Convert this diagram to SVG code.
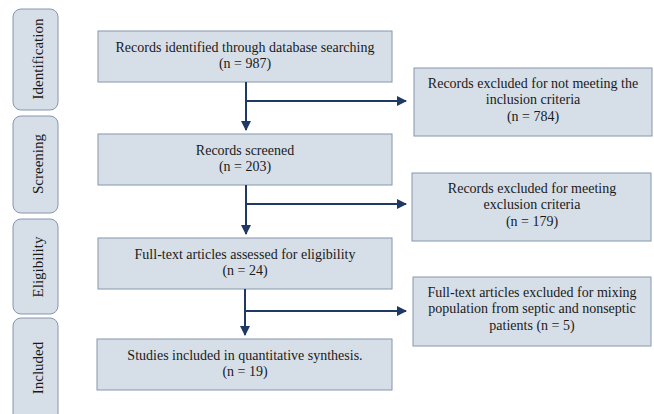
<svg xmlns="http://www.w3.org/2000/svg" width="654" height="414" viewBox="0 0 654 414">
<style>
.side{fill:#d6dfe8;stroke:#8596ad;stroke-width:1}
.box{fill:#d6dfe8;stroke:#8596ad;stroke-width:1}
.t{font-family:"Liberation Serif","DejaVu Serif",serif;font-size:14px;fill:#1a1a1a;text-anchor:middle}
.st{font-size:15px}
.conn{fill:none;stroke:#1f3864;stroke-width:2}
</style>
<defs>
<marker id="ah" viewBox="0 0 10 10" refX="9" refY="5" markerWidth="5" markerHeight="5" orient="auto" markerUnits="strokeWidth">
<path d="M0,0 L10,5 L0,10 z" fill="#1f3864"/>
</marker>
</defs>
<rect width="654" height="414" fill="#ffffff"/>
<g class="t" font-family="Liberation Serif, DejaVu Serif, serif">
<g id="stage-identification"><rect class="side" x="13" y="9" width="45" height="101" rx="8"/><text class="st" transform="translate(43,59) rotate(-90)">Identification</text></g>
<g id="stage-screening"><rect class="side" x="13" y="116" width="45" height="97" rx="8"/><text class="st" transform="translate(43,164) rotate(-90)">Screening</text></g>
<g id="stage-eligibility"><rect class="side" x="13" y="219" width="45" height="95" rx="8"/><text class="st" transform="translate(43,267) rotate(-90)">Eligibility</text></g>
<g id="stage-included"><rect class="side" x="13" y="318" width="45" height="106" rx="8"/><text class="st" transform="translate(43,368) rotate(-90)">Included</text></g>

<g id="identified"><rect class="box" x="98" y="31" width="294" height="51"/><text x="245" y="52">Records identified through database searching</text><text x="245" y="68">(n = 987)</text></g>
<g id="screened"><rect class="box" x="98" y="134" width="294" height="51"/><text x="245" y="155">Records screened</text><text x="245" y="171">(n = 203)</text></g>
<g id="fulltext"><rect class="box" x="98" y="238" width="294" height="51"/><text x="245" y="259">Full-text articles assessed for eligibility</text><text x="245" y="275">(n = 24)</text></g>
<g id="included"><rect class="box" x="97" y="339" width="295" height="51"/><text x="245" y="360">Studies included in quantitative synthesis.</text><text x="245" y="376">(n = 19)</text></g>

<g id="excluded1"><rect class="box" x="414" y="68" width="238" height="68"/><text x="533" y="88">Records excluded for not meeting the</text><text x="533" y="104">inclusion criteria</text><text x="533" y="121">(n = 784)</text></g>
<g id="excluded2"><rect class="box" x="412" y="173" width="239" height="68"/><text x="532" y="193">Records excluded for meeting</text><text x="532" y="209">exclusion criteria</text><text x="532" y="226">(n = 179)</text></g>
<g id="excluded3"><rect class="box" x="413" y="277" width="238" height="69"/><text x="532" y="297">Full-text articles excluded for mixing</text><text x="532" y="313">population from septic and nonseptic</text><text x="532" y="330">patients (n = 5)</text></g>
</g>
<g id="connectors">
<path class="conn" d="M246,82 V130" marker-end="url(#ah)"/>
<path class="conn" d="M246,101 H406" marker-end="url(#ah)"/>
<path class="conn" d="M246,185 V234" marker-end="url(#ah)"/>
<path class="conn" d="M246,204 H406" marker-end="url(#ah)"/>
<path class="conn" d="M245,289 V335" marker-end="url(#ah)"/>
<path class="conn" d="M245,311 H406" marker-end="url(#ah)"/>
</g>
</svg>
